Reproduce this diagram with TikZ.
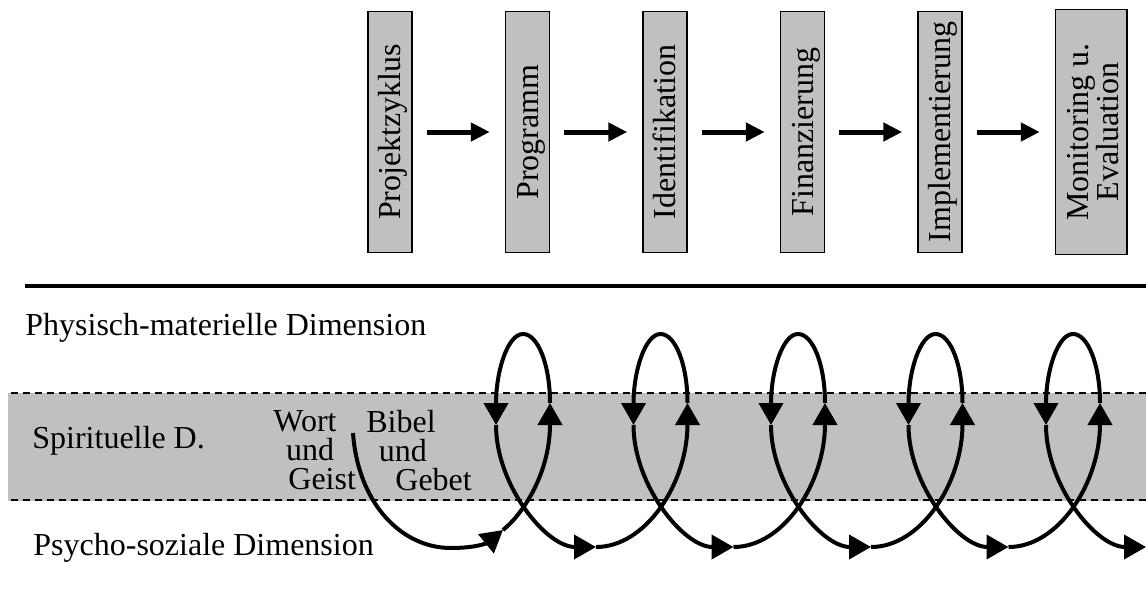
\documentclass[tikz,border=0pt]{standalone}
\usepackage{graphicx}
\usepackage{fontspec}
\setmainfont{Liberation Serif}
\usetikzlibrary{positioning, arrows.meta}

\definecolor{boxgray}{RGB}{192,192,192}
\newcommand{\vlabel}[1]{\rotatebox{90}{\rule[-3.5pt]{0pt}{17.5pt}#1}}

\begin{document}
\begin{tikzpicture}[
			x=0.5pt,
			y=0.5pt,
			node distance=46pt,
			font=\fontsize{16pt}{19pt}\selectfont,
			phase/.style={
				draw=black,
				line width=0.75pt,
				fill=boxgray,
				minimum width=22pt,
				minimum height=120.5pt,
				inner sep=0pt
			},
			flow/.style={
				line width=2.5pt,
				-{Triangle[length=9.5pt,width=9pt]},
				shorten <=7pt,
				shorten >=7.5pt
			},
			dimlabel/.style={
				inner sep=0pt,
				anchor=base west
			},
			wordlabel/.style={
				inner sep=0pt,
				anchor=north west,
				align=left,
				font=\fontsize{16pt}{14.5pt}\selectfont
			},
			coil/.style={
				line width=2pt,
				-{Triangle[length=11pt,width=12pt]}
			},
			border/.style={
				line width=1pt,
				dash pattern=on 3.5pt off 2.5pt
			}
			]
			\useasboundingbox (0,0) rectangle (1146,602);
			% Phasen
			\node[phase] (p1) at (390,470) {\vlabel{Projektzyklus}};
			\node[phase, right=of p1] (p2) {\vlabel{Programm}};
			\node[phase, right=of p2] (p3) {\vlabel{Identifikation}};
			\node[phase, right=of p3] (p4) {\vlabel{Finanzierung}};
			\node[phase, right=of p4] (p5) {\vlabel{Implementierung}};
			\node[phase, right=of p5, minimum width=35pt, minimum height=122.5pt] (p6)
				{\rotatebox{90}{\renewcommand{\arraystretch}{0.71}%
				\begin{tabular}{@{}c@{}}\rule{0pt}{16.5pt}Monitoring u.\\Evaluation\end{tabular}}};
			\foreach \a/\b in {p1/p2, p2/p3, p3/p4, p4/p5, p5/p6}
				\draw[flow] (\a) -- (\b);
			\draw[line width=2pt] (25,316) -- (1146,316);
			% Dimensionen
			\fill[boxgray] (8,101) rectangle (1146,209);
			\draw[border] (11,209) -- (1146,209);
			\draw[border] (11,102) -- (1146,102);
			\node[dimlabel] (phys) at (25,267) {Physisch-materielle Dimension};
			\node[dimlabel] (spir) at (32,154) {Spirituelle D.};
			\node[dimlabel] (psych) at (33,47) {Psycho-soziale Dimension};
			\node[wordlabel] (wort) at (273,192) {Wort\\\hspace*{6.3pt}und\\\hspace*{7.5pt}Geist};
			\node[wordlabel] (bibel) at (366,192) {Bibel\\\hspace*{6.2pt}und\\\hspace*{14.5pt}Gebet};
			% Spirale
			\coordinate (s0) at (353,169);
			\coordinate (b0) at (451,54);
			\coordinate (a0) at (503,72);
			\foreach \k in {1,...,5}{
				\pgfmathsetmacro{\xc}{523+137.5*(\k-1)}
				\coordinate (r\k) at (\xc+27,199);
				\coordinate (t\k) at (\xc,268);
				\coordinate (l\k) at (\xc-27,177);
				\coordinate (b\k) at (\xc+73,55);
			}
			\draw[coil] (s0) .. controls +(5,-70) and +(-50,0) .. (b0)
				.. controls +(25,0) and +(-16,-13) .. (a0);
			\draw[coil] (a0) .. controls +(20,16) and +(0,-70) .. (r1);
			\foreach \k [evaluate=\k as \n using int(\k+1)] in {1,...,4}
				\draw[coil] (b\k) .. controls +(50,0) and +(0,-80) .. (r\n);
			\foreach \k in {1,...,5}{
				\draw[coil] (r\k) .. controls +(0,38) and +(15,0) .. (t\k)
					.. controls +(-15,0) and +(0,55) .. (l\k);
				\draw[coil] (l\k) .. controls +(0,-60) and +(-50,0) .. (b\k);
			}
		\end{tikzpicture}
\end{document}
